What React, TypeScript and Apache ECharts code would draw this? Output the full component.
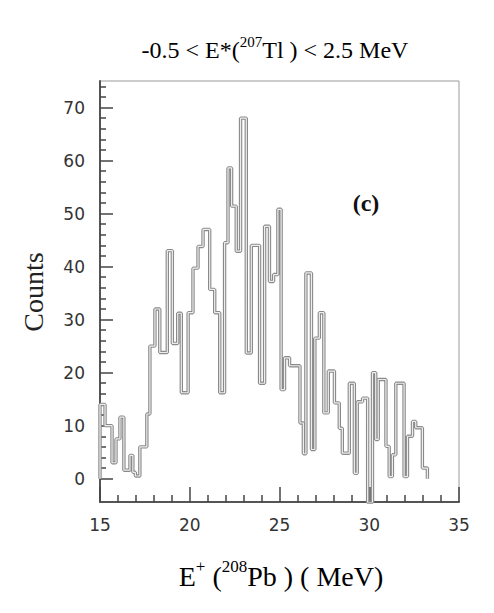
import React, { useEffect, useRef } from "react";
import * as echarts from "echarts";

// Histogram bin edges (MeV) and counts
const binEdges = [
  15.0, 15.28, 15.67, 15.89, 16.11, 16.33, 16.67, 16.83, 16.97, 17.22,
  17.61, 17.78, 18.06, 18.33, 18.75, 19.03, 19.33, 19.53, 19.91, 20.18,
  20.46, 20.74, 21.11, 21.39, 21.67, 21.94, 22.13, 22.33, 22.59, 22.83,
  23.15, 23.43, 23.89, 24.17, 24.44, 24.67, 24.91, 25.09, 25.28, 25.56,
  26.14, 26.33, 26.47, 26.78, 26.97, 27.22, 27.47, 27.72, 28.06, 28.33,
  28.5, 28.89, 29.17, 29.33, 29.63, 29.91, 30.18, 30.36, 30.5, 30.93,
  31.11, 31.29, 31.48, 31.94, 32.13, 32.41, 32.59, 32.96, 33.24,
];
const counts = [
  14, 10, 3, 7.5, 11.6, 1.6, 4.4, 1.2, 0.5, 6,
  12.2, 25, 32, 23.8, 43, 25.5, 31.2, 16.2, 31.3, 39.7,
  43.8, 47, 35.7, 31.3, 16.2, 44.5, 58.6, 51.4, 42.9, 68,
  23.7, 44, 18, 47.6, 37.2, 38.5, 50.8, 16.8, 22.8, 21.3,
  10.5, 4.7, 38.8, 5.5, 26.5, 31.3, 12.4, 20.3, 14.3, 9.5,
  4.8, 18, 1, 14.5, 15.2, -4.5, 20, 7.4, 18.7, 6.1,
  0.4, 4.5, 18, 0.4, 8, 10.8, 9.6, 2,
];
const yMajorTicks = [0, 10, 20, 30, 40, 50, 60, 70];
const yMinorTicks = [
  2, 4, 6, 8, 12, 14, 16, 18, 22, 24, 26, 28, 32, 34, 36, 38,
  42, 44, 46, 48, 52, 54, 56, 58, 62, 64, 66, 68, 72, 74,
];
const xRange = [15, 35];
const yRange = [-4.4, 75];
const titleParts = ["-0.5 < E*(", "207", "Tl ) < 2.5 MeV"];
const xLabelParts = ["E", "+", " (", "208", "Pb ) ( MeV)"];
const yLabel = "Counts";
const panelLabel = "(c)";

const SERIF = "'Liberation Serif', 'Times New Roman', serif";
const SANS = "'DejaVu Sans', Verdana, sans-serif";

export default function App() {
  const ref = useRef<HTMLDivElement>(null);
  useEffect(() => {
    const chart = echarts.init(ref.current!, null, { renderer: "svg" });
    const pts: [number, number][] = [[binEdges[0], 0]];
    counts.forEach((c, i) => {
      pts.push([binEdges[i], c]);
      pts.push([binEdges[i + 1], c]);
    });
    pts.push([binEdges[binEdges.length - 1], 0]);

    const tickStyle = { color: "#444", width: 1.5 };
    chart.setOption({
      animation: false,
      backgroundColor: "#fff",
      grid: {
        left: 100,
        top: 81,
        width: 359,
        height: 421,
        show: true,
        borderColor: "#9a9a9a",
        borderWidth: 1,
        backgroundColor: "transparent",
      },
      xAxis: {
        type: "value",
        min: xRange[0],
        max: xRange[1],
        interval: 5,
        position: "bottom",
        axisLine: { show: true, onZero: false, lineStyle: { color: "#555", width: 2 } },
        axisTick: { show: true, inside: true, length: 15, lineStyle: tickStyle },
        minorTick: { show: true, splitNumber: 5, length: 7, lineStyle: tickStyle },
        axisLabel: { margin: 14, fontFamily: SANS, fontSize: 17, color: "#333" },
        splitLine: { show: false },
      },
      yAxis: [
        {
          type: "value",
          min: yRange[0],
          max: yRange[1],
          position: "left",
          axisLine: { show: true, onZero: false, lineStyle: { color: "#555", width: 2 } },
          axisTick: { show: true, inside: true, length: 13, customValues: yMajorTicks, lineStyle: tickStyle },
          axisLabel: { customValues: yMajorTicks, margin: 15, fontFamily: SANS, fontSize: 17, color: "#333" },
          splitLine: { show: false },
        },
        {
          type: "value",
          min: yRange[0],
          max: yRange[1],
          position: "left",
          axisLine: { show: false },
          axisTick: { show: true, inside: true, length: 6, customValues: yMinorTicks, lineStyle: tickStyle },
          axisLabel: { show: false },
          splitLine: { show: false },
        },
      ],
      series: [
        {
          type: "line",
          data: pts,
          showSymbol: false,
          lineStyle: { color: "#8a8a8a", width: 3.4 },
          z: 2,
        },
        {
          type: "line",
          data: pts,
          showSymbol: false,
          lineStyle: { color: "#eeeeee", width: 1.2 },
          z: 3,
        },
      ],
      graphic: [
        {
          type: "text",
          x: 275,
          y: 48,
          style: {
            text: `{a|${titleParts[0]}}{s|${titleParts[1]}}{a|${titleParts[2]}}`,
            align: "center",
            verticalAlign: "middle",
            rich: {
              a: { fontFamily: SERIF, fontSize: 24, color: "#111", verticalAlign: "bottom", lineHeight: 28 },
              s: { fontFamily: SERIF, fontSize: 15, color: "#111", verticalAlign: "top", lineHeight: 28 },
            },
          },
        },
        {
          type: "text",
          x: 281,
          y: 574,
          style: {
            text: `{a|${xLabelParts[0]}}{s|${xLabelParts[1]}}{a|${xLabelParts[2]}}{s|${xLabelParts[3]}}{a|${xLabelParts[4]}}`,
            align: "center",
            verticalAlign: "middle",
            rich: {
              a: { fontFamily: SERIF, fontSize: 28, color: "#222", verticalAlign: "bottom", lineHeight: 32 },
              s: { fontFamily: SERIF, fontSize: 17, color: "#222", verticalAlign: "top", lineHeight: 32 },
            },
          },
        },
        {
          type: "text",
          x: 33,
          y: 292,
          rotation: Math.PI / 2,
          style: {
            text: yLabel,
            align: "center",
            verticalAlign: "middle",
            fontFamily: SERIF,
            fontSize: 28,
            fill: "#222",
          },
        },
        {
          type: "text",
          x: 366,
          y: 203,
          style: {
            text: panelLabel,
            align: "center",
            verticalAlign: "middle",
            fontFamily: SERIF,
            fontSize: 24,
            fontWeight: "bold",
            fill: "#111",
          },
        },
      ],
    });
    return () => chart.dispose();
  }, []);
  return (
    <div
      ref={ref}
      style={{ position: "fixed", left: 0, top: 0, width: 494, height: 613, background: "#fff" }}
    />
  );
}
